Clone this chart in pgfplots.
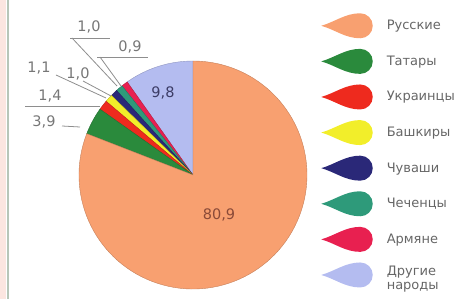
\documentclass[border=0pt]{standalone}
\usepackage{fontspec}
\setmainfont{DejaVu Sans}
\usepackage{pgfplots}
\pgfplotsset{compat=1.18}
\definecolor{cRus}{HTML}{F8A070}
\definecolor{cTat}{HTML}{2A8A3C}
\definecolor{cUkr}{HTML}{EE2A1E}
\definecolor{cBas}{HTML}{F2EE2A}
\definecolor{cChu}{HTML}{2A2878}
\definecolor{cChe}{HTML}{2E9A7A}
\definecolor{cArm}{HTML}{E82050}
\definecolor{cOth}{HTML}{B4BCF0}
\definecolor{txtgray}{HTML}{666666}
\definecolor{lblgray}{HTML}{777777}
\definecolor{linegray}{HTML}{8E8E8E}
\definecolor{stripPink}{HTML}{FCE6E0}
\definecolor{stripLine}{HTML}{B8C6B8}
\definecolor{lblBrown}{HTML}{8A4A38}
\definecolor{lblSlate}{HTML}{3C3C66}
% slice: start percent, value percent, colour
\newcommand{\slice}[3]{%
  \fill[#3, draw=#3!80!black, line width=0.4pt] (axis cs:193,175) -- ++({90+3.6*#1}:114pt)
    arc[start angle={90+3.6*#1}, delta angle={3.6*#2}, radius=114pt] -- cycle;}
\pgfplotsset{drop/.style={legend image code/.code={%
  \path[##1, draw=none] (0pt,0pt) .. controls (14pt,4pt) and (24pt,12.5pt) .. (39pt,12.5pt)
    arc[start angle=90, end angle=-90, radius=12.5pt]
    .. controls (24pt,-12.5pt) and (14pt,-4pt) .. (0pt,0pt);}}}
\begin{document}
\begin{tikzpicture}
\begin{axis}[
  at={(0pt,0pt)}, anchor=south west,
  scale only axis, width=455pt, height=299pt,
  xmin=0, xmax=455, ymin=0, ymax=299, y dir=reverse,
  hide axis, clip=false,
  legend style={at={(0.699,0.963)}, anchor=north west, draw=none, fill=none,
    font=\fontsize{13}{14.5}\selectfont, text=txtgray, row sep=10.6pt,
    nodes={inner sep=1pt},
    /tikz/every odd column/.style={column sep=13pt}},
  legend cell align=left,
]
\fill[stripPink] (axis cs:0,0) rectangle (axis cs:6,299);
\draw[stripLine, line width=1.5pt] (axis cs:8,0) -- (axis cs:8,299);
% pie: values in percent, counter-clockwise from the top
\slice{0}{9.8}{cOth}
\slice{9.8}{0.9}{cArm}
\slice{10.7}{1.0}{cChe}
\slice{11.7}{1.0}{cChu}
\slice{12.7}{1.1}{cBas}
\slice{13.8}{1.4}{cUkr}
\slice{15.2}{3.9}{cTat}
\slice{19.1}{80.9}{cRus}
% leader lines
\draw[linegray, line width=0.8pt] (axis cs:70,38) -- (axis cs:110,38);
\draw[linegray, line width=0.8pt] (axis cs:72,38) -- (axis cs:117,86);
\draw[linegray, line width=0.8pt] (axis cs:97,57) -- (axis cs:148,57);
\draw[linegray, line width=0.8pt] (axis cs:100,57) -- (axis cs:121,86);
\draw[linegray, line width=0.8pt] (axis cs:56,75) -- (axis cs:106,98);
\draw[linegray, line width=0.8pt] (axis cs:83,81) -- (axis cs:111,96);
\draw[linegray, line width=0.8pt] (axis cs:25,106) -- (axis cs:100,106);
\draw[linegray, line width=0.8pt] (axis cs:62,126) -- (axis cs:80,127);
% labels
\begin{scope}[every node/.style={font=\fontsize{14.5}{16}\selectfont, text=lblgray, inner sep=0pt}]
\node at (axis cs:89,27) {1,0};
\node at (axis cs:130,47) {0,9};
\node at (axis cs:39,68) {1,1};
\node at (axis cs:78,74) {1,0};
\node at (axis cs:50,96) {1,4};
\node at (axis cs:44,122) {3,9};
\node[text=lblSlate] at (axis cs:163,93) {9,8};
\node[text=lblBrown] at (axis cs:219,215) {80,9};
\end{scope}
\addlegendimage{drop, fill=cRus}
\addlegendentry{Русские}
\addlegendimage{drop, fill=cTat}
\addlegendentry{Татары}
\addlegendimage{drop, fill=cUkr}
\addlegendentry{Украинцы}
\addlegendimage{drop, fill=cBas}
\addlegendentry{Башкиры}
\addlegendimage{drop, fill=cChu}
\addlegendentry{Чуваши}
\addlegendimage{drop, fill=cChe}
\addlegendentry{Чеченцы}
\addlegendimage{drop, fill=cArm}
\addlegendentry{Армяне}
\addlegendimage{drop, fill=cOth}
\addlegendentry{\begin{tabular}{@{}l@{}}Другие\\[-1pt]народы\end{tabular}}
\end{axis}
\pgfresetboundingbox
\path[use as bounding box] (0pt,0pt) rectangle (455pt,299pt);
\end{tikzpicture}
\end{document}
